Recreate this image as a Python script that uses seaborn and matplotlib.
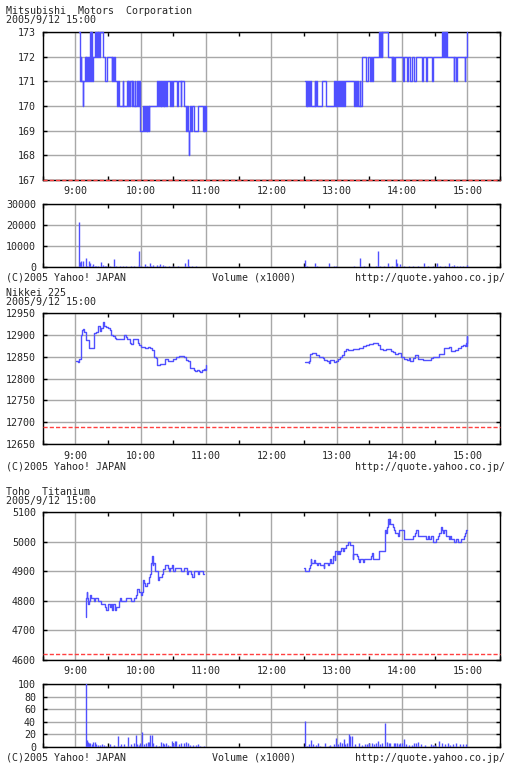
import numpy as np
import pandas as pd
import matplotlib
matplotlib.use("Agg")
import matplotlib.pyplot as plt
import seaborn as sns

# ---- data (minutes after 9:00, prices / volumes) ----
hour_ticks = [0, 60, 120, 180, 240, 300, 360]
hour_labels = ["9:00", "10:00", "11:00", "12:00", "13:00", "14:00", "15:00"]
half_ticks = [-30, 30, 90, 150, 210, 270, 330, 390]

# Mitsubishi Motors price
mmc_t = [3.4, 4.0, 4.4, 4.9, 5.6, 7.0, 7.3, 8.6, 9.4, 10.0, 10.6, 11.4, 12.3, 13.3, 14.0, 14.6, 15.0,
         16.4, 18.2, 18.8, 19.8, 20.5, 21.0, 22.0, 22.6, 25.0, 27.2, 28.7, 33.4, 34.0, 34.6, 35.2, 36.2,
         38.0, 39.2, 40.5, 43.4, 44.2, 47.3, 48.0, 48.6, 49.4, 50.4, 51.6, 52.4, 53.3, 54.4, 55.0, 56.5,
         57.3, 58.2, 59.0, 62.4, 63.3, 64.0, 64.6, 65.4, 66.0, 66.6, 67.2, 68.0, 75.1, 75.8, 76.6, 77.4,
         78.2, 78.8, 79.6, 80.2, 81.0, 81.6, 82.2, 83.0, 84.0, 87.2, 88.0, 89.0, 89.8, 93.6, 94.2, 96.7,
         97.3, 99.7, 101.7, 102.5, 103.2, 104.2, 104.5, 105.4, 106.6, 107.5, 108.5, 112.2, 117.4, 118.0,
         118.6, 119.4, 120.0,
         211.1, 211.5, 212.4, 213.0, 214.0, 214.8, 215.8, 216.8, 219.7, 220.4, 221.4, 222.0, 226.2, 230.5,
         237.8, 238.4, 239.0, 239.6, 240.2, 241.0, 242.0, 242.6, 244.0, 245.0, 246.0, 246.6, 247.6, 255.7,
         256.8, 257.6, 259.0, 259.8, 261.0, 261.6, 262.8, 263.7, 266.8, 268.4, 271.0, 271.6, 272.2, 273.4,
         279.1, 279.6, 280.6, 281.4, 282.0, 287.4, 290.5, 291.0, 291.5, 292.0, 292.6, 293.5, 301.2, 302.0,
         304.4, 305.4, 307.0, 308.8, 311.0, 312.8, 318.0, 319.6, 321.6, 322.6, 327.2, 328.6, 336.6, 337.4,
         338.2, 339.4, 340.0, 341.0, 347.4, 348.0, 349.4, 350.4, 357.6, 358.2, 360.0]
mmc_p = [173, 172, 171, 172, 171, 170, 171, 172, 171, 172, 171, 172, 171, 173, 171, 173, 171,
         172, 173, 172, 173, 172, 173, 172, 173, 172, 171, 172, 171, 172, 171, 172, 171,
         170, 171, 170, 171, 170, 171, 170, 171, 170, 171, 170, 171, 170, 171, 170, 171,
         170, 171, 169, 170, 169, 170, 169, 170, 169, 170, 169, 170, 171, 170, 171, 170,
         171, 170, 171, 170, 171, 170, 171, 170, 171, 170, 171, 170, 171, 170, 171, 170,
         171, 170, 169, 170, 169, 168, 169, 170, 169, 170, 169, 170, 169, 170,
         169, 170, 169,
         171, 170, 171, 170, 171, 170, 171, 170, 171, 170, 171, 170, 171, 170,
         171, 170, 171, 170, 171, 170, 171, 170, 171, 170, 171, 170, 171, 170,
         171, 170, 171, 170, 171, 170, 171, 172, 171, 172, 171, 172, 171, 172,
         173, 172, 173, 172, 173, 172, 171, 172, 171, 172, 171, 172, 171, 172,
         171, 172, 171, 172, 171, 172, 171, 172, 171, 172, 171, 172, 173, 172,
         173, 172, 173, 172, 171, 172, 171, 172, 171, 172, 173]

# Mitsubishi Motors volume (x1000)
mmc_vt = [3.4, 4.3, 5.5, 7.0, 9.5, 10.7, 12.5, 13.7, 15.0, 16.2, 17.7, 19.2, 21.1, 23.8, 25.3, 26.9,
          28.4, 31.4, 35.4, 37.6, 40.6, 43.7, 46.7, 50.7, 54.3, 58.3, 58.9, 60.5, 63.8, 65.6, 68.1,
          69.9, 71.7, 74.8, 76.6, 77.8, 80.3, 82.7, 86.4, 89.5, 94.0, 100.4, 103.2, 104.7, 107.1,
          110.8, 113.9, 118.5,
          210.8, 212.9, 217.5, 220.0, 222.1, 225.1, 232.8, 237.3, 239.8, 243.4, 249.5, 255.6, 261.7,
          264.8, 270.9, 276.4, 277.6, 280.0, 283.1, 286.8, 290.7, 294.1, 295.3, 298.3, 301.4, 306.0,
          310.5, 315.1, 320.6, 324.3, 328.8, 332.5, 334.9, 339.5, 343.5, 345.6, 347.8, 350.2, 353.2,
          356.3, 359.3]
mmc_v = [21400, 2400, 2800, 3100, 4300, 700, 3000, 1900, 800, 1600, 600, 500, 700, 2400, 900, 500,
         400, 600, 4000, 500, 700, 600, 800, 700, 500, 7800, 1000, 600, 1600, 600, 1900,
         700, 1100, 900, 500, 1600, 1200, 400, 500, 400, 400, 2100, 4000, 600, 400,
         400, 300, 300,
         3500, 400, 300, 2100, 700, 300, 2100, 400, 500, 300, 300, 400, 4300,
         500, 400, 600, 7800, 800, 400, 2100, 800, 4000, 1900, 1800, 600, 400,
         600, 500, 2100, 400, 500, 2100, 600, 400, 2100, 800, 1000, 700, 500,
         400, 900]

# Nikkei 225
nk_t = [0.6, 2.7, 3.4, 5.2, 6.1, 7.0, 7.6, 10.1, 12.5, 17.1, 19.2, 21.1, 22.3, 23.8, 25.3, 26.3, 28.4,
        29.9, 31.4, 33.0, 34.5, 36.0, 37.6, 42.1, 44.3, 46.1, 47.6, 49.8, 51.3, 52.8, 57.4, 58.9, 60.5,
        63.5, 66.6, 68.1, 70.2, 71.8, 74.2, 75.1, 77.3, 80.3, 82.7, 84.9, 86.4, 89.5, 92.5, 95.6, 99.5,
        101.7, 103.5, 105.3, 108.7, 109.9, 111.8, 113.3, 114.8, 116.0, 117.9, 119.4, 120.0,
        210.9, 214.3, 214.9, 215.8, 217.0, 221.0, 224.1, 227.1, 228.7, 230.8, 232.6, 233.9, 236.3,
        237.9, 239.4, 240.9, 243.1, 244.9, 247.0, 248.6, 250.1, 254.7, 257.1, 260.8, 263.9, 266.9,
        269.4, 273.1, 277.6, 279.8, 282.2, 285.3, 287.7, 289.6, 291.4, 293.9, 296.0, 299.1, 300.6,
        302.1, 304.3, 306.1, 307.3, 309.8, 312.2, 314.4, 319.0, 323.6, 326.6, 328.2, 331.2, 334.3,
        338.9, 342.8, 345.0, 348.7, 351.1, 354.2, 356.3, 357.8, 358.8, 359.6, 360.0]
nk_p = [12841, 12838, 12844, 12900, 12910, 12913, 12907, 12887, 12870, 12903, 12905, 12919, 12909,
        12915, 12928, 12920, 12918, 12915, 12910, 12900, 12897, 12893, 12889, 12890, 12900, 12895,
        12889, 12882, 12879, 12889, 12880, 12876, 12872, 12869, 12872, 12870, 12865, 12850, 12847,
        12830, 12833, 12834, 12845, 12841, 12840, 12844, 12848, 12851, 12850, 12843, 12840, 12823,
        12820, 12816, 12820, 12818, 12814, 12820, 12822, 12820, 12830,
        12837, 12835, 12840, 12855, 12857, 12853, 12850, 12846, 12843, 12840, 12836, 12843, 12842,
        12838, 12840, 12845, 12848, 12853, 12863, 12867, 12865, 12867, 12868, 12870, 12873, 12876,
        12879, 12880, 12877, 12868, 12866, 12867, 12868, 12862, 12860, 12856, 12858, 12850, 12850,
        12845, 12842, 12846, 12840, 12847, 12853, 12845, 12843, 12843, 12846, 12848, 12850, 12855,
        12869, 12872, 12863, 12865, 12870, 12873, 12876, 12875, 12880, 12898, 12873]

# Toho Titanium price
toho_t = [9.8, 10.1, 10.4, 11.0, 11.6, 12.5, 13.1, 14.0, 15.6, 17.1, 17.7, 19.2, 20.8, 23.2, 23.8,
          25.3, 26.9, 28.4, 30.2, 32.1, 32.7, 33.6, 34.5, 36.0, 37.6, 39.7, 40.6, 42.1, 46.7, 49.8,
          50.7, 53.4, 55.9, 56.8, 58.0, 59.5, 60.5, 61.4, 62.0, 62.9, 63.5, 65.9, 67.5, 68.7, 69.6,
          70.5, 71.1, 71.7, 73.0, 75.7, 77.2, 79.4, 80.3, 82.4, 84.9, 85.8, 87.3, 88.8, 89.5, 91.9,
          97.1, 99.5, 102.3, 103.5, 106.2, 107.2, 109.3, 113.0, 113.9, 116.9, 117.8,
          210.3, 211.2, 214.3, 215.2, 216.1, 216.7, 219.5, 220.4, 221.9, 222.9, 225.0, 228.1, 228.7,
          231.1, 232.3, 233.3, 233.9, 235.1, 236.3, 238.2, 238.8, 240.0, 240.9, 242.4, 243.1, 244.0,
          245.5, 247.0, 248.6, 250.4, 252.5, 254.7, 255.3, 258.4, 259.3, 260.2, 261.4, 263.3, 264.5,
          265.4, 271.5, 272.4, 273.1, 279.2, 283.8, 284.4, 285.3, 286.2, 287.1, 287.7, 288.4, 289.0,
          289.9, 291.4, 293.0, 293.9, 296.0, 297.5, 301.5, 309.8, 312.2, 313.1, 314.4, 322.0, 323.6,
          325.1, 326.6, 328.2, 331.2, 332.7, 334.3, 335.8, 336.7, 338.0, 338.9, 340.4, 342.8, 344.0,
          345.0, 348.0, 349.6, 351.1, 354.2, 356.6, 358.2, 358.8, 360.0]
toho_p = [4747, 4810, 4829, 4810, 4790, 4800, 4819, 4810, 4810, 4800, 4810, 4810, 4800, 4793, 4790,
          4790, 4779, 4768, 4790, 4779, 4790, 4768, 4790, 4768, 4779, 4800, 4810, 4800, 4810, 4810,
          4800, 4810, 4819, 4840, 4830, 4830, 4819, 4830, 4871, 4860, 4849, 4860, 4880, 4890, 4930,
          4951, 4920, 4930, 4900, 4871, 4880, 4890, 4909, 4920, 4910, 4900, 4910, 4920, 4900, 4910,
          4900, 4910, 4890, 4900, 4890, 4880, 4900, 4890, 4900, 4890, 4890,
          4910, 4900, 4910, 4920, 4941, 4930, 4940, 4930, 4920, 4930, 4920, 4910, 4930,
          4930, 4920, 4930, 4941, 4930, 4951, 4940, 4970, 4960, 4970, 4960, 4970, 4979,
          4970, 4979, 4989, 5000, 4989, 4941, 4960, 4951, 4941, 4931, 4941, 4941, 4931,
          4941, 4951, 4961, 4941, 4970, 4970, 5039, 5030, 5049, 5079, 5060, 5079, 5060,
          5059, 5049, 5039, 5030, 5020, 5039, 5009, 5020, 5030, 5039, 5020, 5009, 5020,
          5009, 5020, 5000, 5009, 5020, 5030, 5049, 5040, 5030, 5039, 5020, 5009, 5020,
          5009, 5000, 5009, 5000, 5009, 5020, 5030, 5039, 5039]

# Toho Titanium volume (x1000)
toho_vt = [9.8, 10.4, 11.3, 12.5, 13.7, 15.0, 16.2, 17.7, 19.2, 20.8, 22.3, 24.1, 26.0, 28.4, 31.4,
           35.4, 39.1, 40.6, 42.1, 44.3, 48.2, 51.3, 53.7, 55.6, 56.8, 58.3, 59.5, 61.4, 62.9, 65.0,
           66.6, 67.5, 69.0, 70.5, 71.7, 74.2, 76.6, 79.1, 80.3, 81.2, 83.3, 84.9, 87.0, 88.8, 90.1,
           91.6, 92.5, 95.6, 97.4, 100.1, 101.7, 103.2, 105.3, 107.8, 110.8, 113.0, 114.8, 117.8,
           210.8, 212.3, 214.8, 216.3, 217.8, 220.6, 222.4, 225.1, 229.1, 232.8, 234.3, 237.3, 239.2,
           241.0, 242.8, 245.0, 246.5, 248.0, 249.5, 251.1, 252.6, 254.1, 256.6, 260.2, 263.3, 265.7,
           267.8, 270.0, 272.4, 273.9, 276.4, 277.9, 280.0, 281.6, 284.0, 286.1, 287.7, 289.2, 292.2,
           293.8, 295.3, 296.8, 298.3, 299.9, 302.0, 303.8, 306.0, 309.0, 310.8, 313.0, 315.1, 317.3,
           321.2, 326.4, 328.8, 330.4, 334.3, 336.5, 339.5, 342.0, 344.1, 347.1, 349.6, 353.2, 356.3,
           358.7]
toho_v = [130, 11, 8, 7, 6, 5, 8, 8, 5, 3, 3, 5, 3, 2, 4,
          3, 18, 2, 5, 5, 16, 5, 7, 19, 5, 3, 6, 24, 5, 7,
          8, 8, 19, 19, 6, 3, 2, 8, 6, 4, 7, 3, 2, 9, 7,
          10, 9, 4, 6, 7, 8, 6, 3, 3, 3, 4, 2, 2,
          41, 2, 4, 11, 5, 3, 6, 2, 7, 2, 3, 4, 15,
          4, 8, 7, 13, 4, 7, 21, 18, 17, 4, 7, 3, 4,
          4, 6, 7, 4, 7, 10, 5, 7, 39, 8, 7, 7, 7,
          6, 6, 4, 6, 7, 13, 5, 3, 3, 6, 7, 8, 4,
          3, 5, 3, 3, 10, 6, 4, 7, 3, 5, 7, 4, 4,
          4]

# ---- style ----
sns.set_style("white")
plt.rcParams["font.family"] = ["DejaVu Sans Mono"]
plt.rcParams["font.size"] = 7.2

BLUE = "#5050ff"
GRID = "#a8a8a8"
RED = "#ff4040"
W, H = 512.0, 768.0

fig = plt.figure(figsize=(5.12, 7.68), dpi=100)


def make_axes(top, bottom):
    return fig.add_axes([42.7 / W, 1 - bottom / H, (500 - 42.7) / W, (bottom - top) / H])


def style_axes(ax, yticks, ylabels, show_x):
    ax.set_xlim(-30, 390)
    ax.set_ylim(yticks[0], yticks[-1])
    ax.set_xticks(hour_ticks)
    ax.set_xticklabels(hour_labels if show_x else [])
    ax.set_xticks(half_ticks, minor=True)
    ax.set_yticks(yticks)
    ax.set_yticklabels(ylabels)
    ax.set_axisbelow(True)
    ax.grid(True, which="major", color=GRID, lw=1.0)
    ax.tick_params(axis="x", which="major", length=0, pad=4.6)
    ax.tick_params(axis="x", which="minor", direction="in", top=True, bottom=True,
                   length=2.6, width=1.0, color="black")
    ax.tick_params(axis="y", which="major", direction="in", left=True, right=True,
                   length=2.6, width=1.0, color="black", pad=4.8)
    for s in ax.spines.values():
        s.set_color("black")
        s.set_linewidth(1.0)
    ax.set_xlabel("")
    ax.set_ylabel("")


def price_plot(ax, t, p):
    df = pd.DataFrame({"t": t, "p": p})
    df["session"] = np.where(df["t"] < 150, "am", "pm")
    sns.lineplot(data=df, x="t", y="p", units="session", estimator=None, sort=False,
                 drawstyle="steps-post", color=BLUE, lw=1.0, ax=ax, legend=False,
                 zorder=3, clip_on=False)


def ref_line(ax, y):
    ax.axhline(y, color=RED, lw=1.0, ls=(0, (3, 1.5)), zorder=6, clip_on=False)


def header(name, y):
    fig.text(6 / W, 1 - y / H, name, ha="left", va="center")
    fig.text(6 / W, 1 - (y + 9) / H, "2005/9/12 15:00", ha="left", va="center")


def footer(y, vol=True):
    fig.text(6 / W, 1 - y / H, "(C)2005 Yahoo! JAPAN", ha="left", va="center")
    if vol:
        fig.text(254.5 / W, 1 - y / H, "Volume (x1000)", ha="center", va="center")
    fig.text(505 / W, 1 - y / H, "http://quote.yahoo.co.jp/", ha="right", va="center")


# Mitsubishi price
header("Mitsubishi  Motors  Corporation", 11)
ax1 = make_axes(32, 180)
price_plot(ax1, mmc_t, mmc_p)
mm_y = [167, 168, 169, 170, 171, 172, 173]
style_axes(ax1, mm_y, [str(v) for v in mm_y], True)
ref_line(ax1, 167)

# Mitsubishi volume
ax2 = make_axes(204.3, 267.3)
ax2.vlines(mmc_vt, 0, mmc_v, color=BLUE, lw=1.0, zorder=3)
vol1_y = [0, 10000, 20000, 30000]
style_axes(ax2, vol1_y, [str(v) for v in vol1_y], False)
footer(277.7)

# Nikkei 225
header("Nikkei 225", 293.5)
ax3 = make_axes(312.7, 444.3)
price_plot(ax3, nk_t, nk_p)
nk_y = [12650, 12700, 12750, 12800, 12850, 12900, 12950]
style_axes(ax3, nk_y, [str(v) for v in nk_y], True)
ref_line(ax3, 12690)
footer(466.7, vol=False)

# Toho Titanium price
header("Toho  Titanium", 491.7)
ax4 = make_axes(512.3, 660)
price_plot(ax4, toho_t, toho_p)
toho_y = [4600, 4700, 4800, 4900, 5000, 5100]
style_axes(ax4, toho_y, [str(v) for v in toho_y], True)
ref_line(ax4, 4620)

# Toho Titanium volume
ax5 = make_axes(684.3, 747)
ax5.vlines(toho_vt, 0, toho_v, color=BLUE, lw=1.0, zorder=3)
vol2_y = [0, 20, 40, 60, 80, 100]
style_axes(ax5, vol2_y, [str(v) for v in vol2_y], False)
footer(757.7)

fig.savefig("out.png", dpi=100)
